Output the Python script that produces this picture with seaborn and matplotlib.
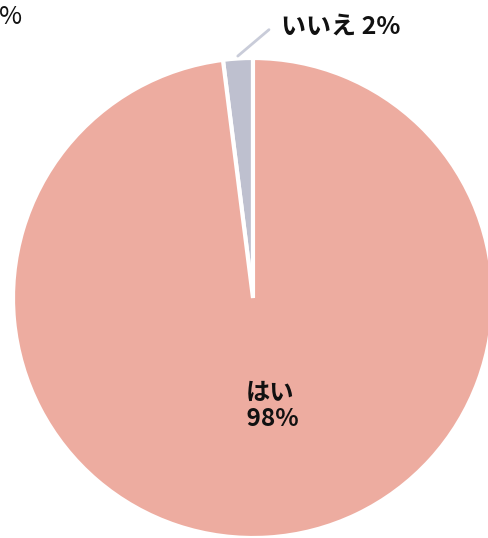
import numpy as np
import matplotlib.pyplot as plt
import seaborn as sns

# data
labels = ["いいえ", "はい"]
shares = [2, 98]
colors = ["#bec0cf", "#edaca0"]

sns.set_theme(style="white")
plt.rcParams['font.family'] = ['Noto Sans CJK JP', 'DejaVu Sans']

W, H = 488, 538
fig = plt.figure(figsize=(W / 100, H / 100), dpi=100)
ax = fig.add_axes([0, 0, 1, 1])

wedges, _ = ax.pie(shares, colors=colors, startangle=90, counterclock=True,
                   radius=1.0, center=(0, 0),
                   wedgeprops=dict(edgecolor='white', linewidth=3))

# pie centre sits at (253, 298) px from top-left, radius 240 px
r_px = 240.0
cx, cy = 253.0, H - 298.0
ax.set_aspect('auto')
ax.set_xlim(-cx / r_px, (W - cx) / r_px)
ax.set_ylim(-cy / r_px, (H - cy) / r_px)
ax.axis('off')

# inside label for はい
ax.text(0.07, -0.45, f"{labels[1]}\n {shares[1]}%", ha='center', va='center',
        fontsize=17.5, fontweight='bold', color='#111111', linespacing=1.1)

# outside label for いいえ with leader line
w0 = wedges[0]
mid = np.deg2rad((w0.theta1 + w0.theta2) / 2)
x0, y0 = 1.01 * np.cos(mid), 1.01 * np.sin(mid)
x1, y1 = x0 + 0.13, y0 + 0.11
ax.plot([x0, x1], [y0, y1], color='#c9ccd9', lw=2, solid_capstyle='round')
ax.text(x1 + 0.05, y1 + 0.015, f"{labels[0]} {shares[0]}%", ha='left', va='center',
        fontsize=18, fontweight='bold', color='#111111')

# fragment of a neighbouring label at the top-left corner
fig.text(22 / W, 1 - 17 / H, "%", ha='right', va='center', fontsize=18,
         color='#111111')

fig.savefig("out.png", dpi=100)
